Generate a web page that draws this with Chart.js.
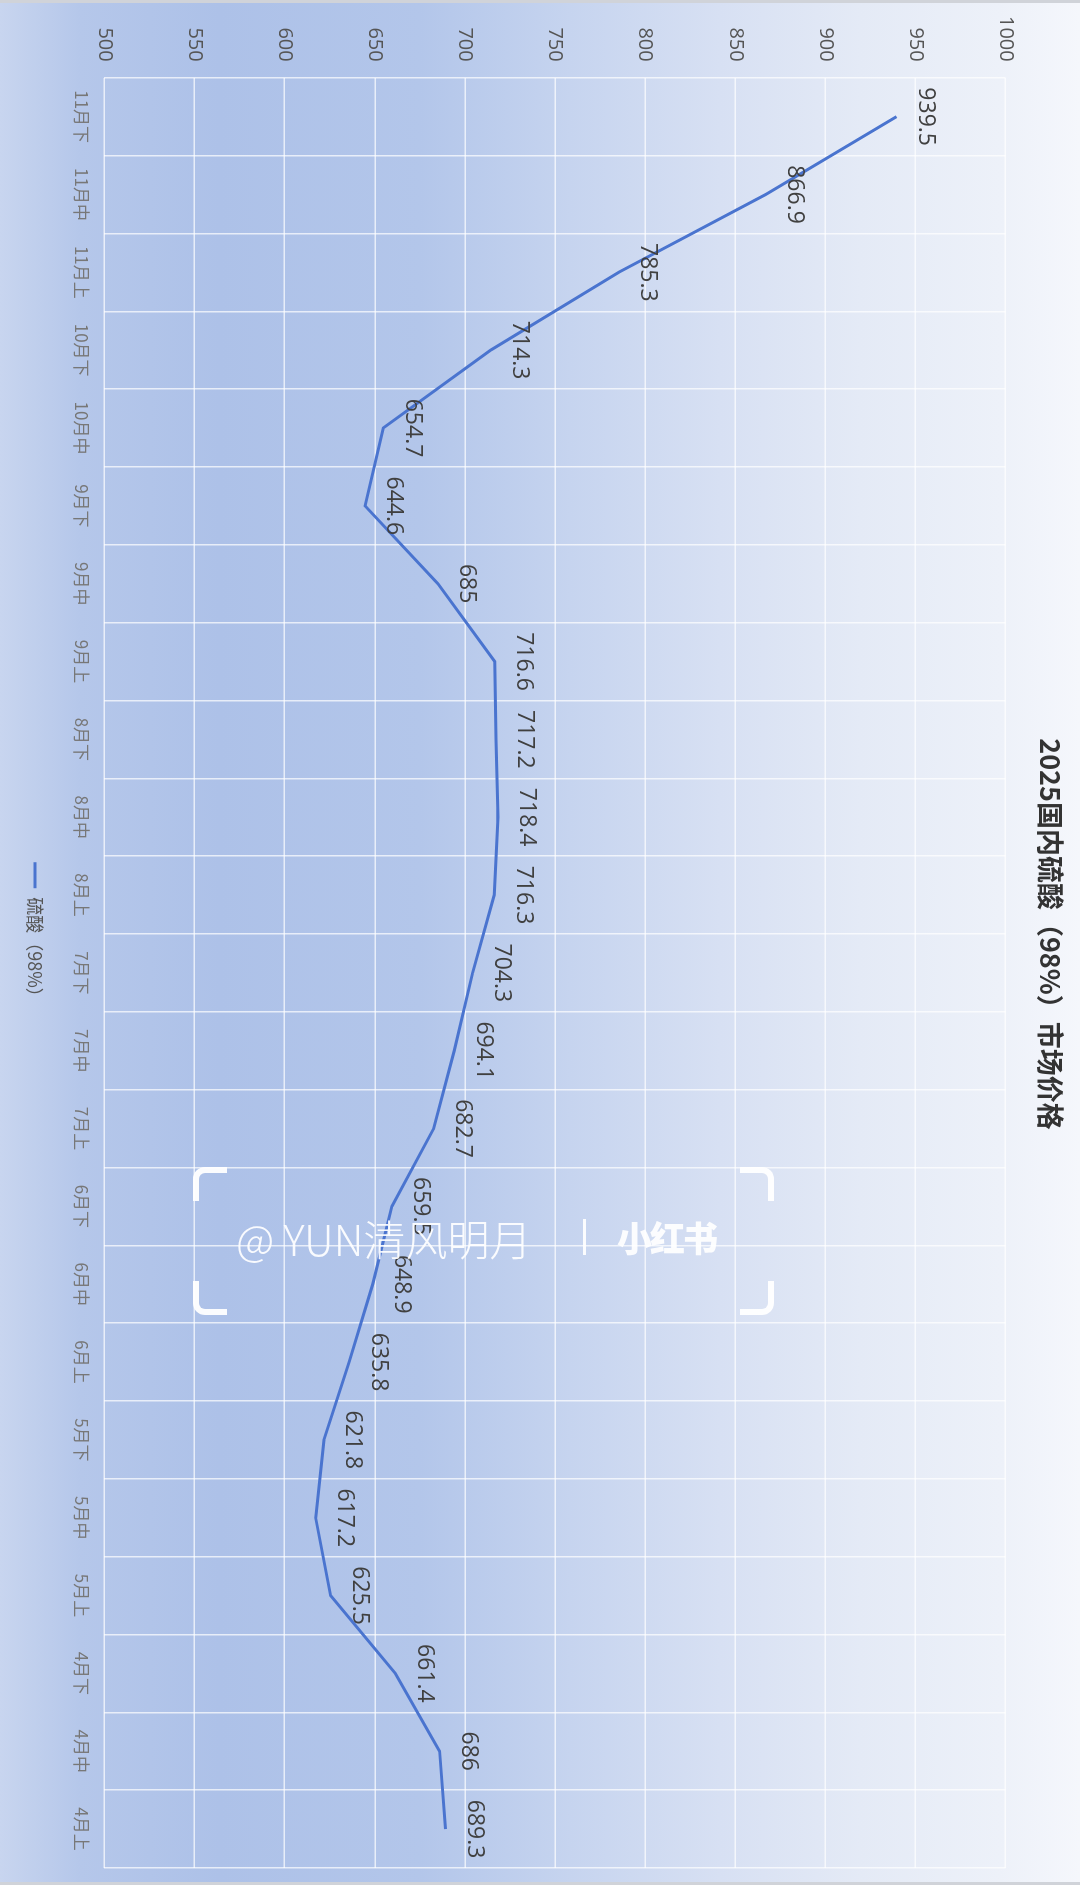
<!DOCTYPE html>
<html>
<head>
<meta charset="utf-8">
<script src="https://cdn.jsdelivr.net/npm/chart.js@4.4.1/dist/chart.umd.min.js"></script>
<style>
  html, body { margin: 0; padding: 0; }
  body {
    width: 1080px; height: 1885px; overflow: hidden; position: relative;
    background: linear-gradient(to right, #c8d5ef 0px, #b5c7ea 80px, #adc1e8 220px, #b3c6ea 420px, #c6d4ef 570px, #d7e0f3 720px, #e4eaf6 860px, #edf1f9 1000px, #f5f7fc 1080px);
    font-family: "Noto Sans CJK SC", "Noto Sans", sans-serif;
  }
  #rot {
    position: absolute; left: 0; top: 0; width: 1885px; height: 1080px;
    transform-origin: 0 0; transform: translateX(1080px) rotate(90deg);
  }
  .edge { position: absolute; left: 0; width: 1080px; height: 3px; background: #d0d3d9; }
  .wm { position: absolute; color: rgba(255,255,255,0.92); white-space: nowrap; }
  .corner { position: absolute; width: 28px; height: 28px; border: 0 solid rgba(255,255,255,0.95); }
</style>
</head>
<body>
<div id="rot"><canvas id="chart" width="1885" height="1080"></canvas></div>

<div class="edge" style="top:0"></div>
<div class="edge" style="top:1882px"></div>

<!-- watermark -->
<div class="corner" style="left:193px;top:1167px;border-left-width:6px;border-top-width:6px;border-top-left-radius:12px;"></div>
<div class="corner" style="left:193px;top:1281px;border-left-width:6px;border-bottom-width:6px;border-bottom-left-radius:12px;"></div>
<div class="corner" style="left:740px;top:1167px;border-right-width:6px;border-top-width:6px;border-top-right-radius:12px;"></div>
<div class="corner" style="left:740px;top:1281px;border-right-width:6px;border-bottom-width:6px;border-bottom-right-radius:12px;"></div>
<div class="wm" style="left:236px;top:1210px;font-size:42px;font-weight:300;line-height:56px;">@ YUN清风明月</div>
<div class="wm" style="left:583px;top:1219px;width:3px;height:36px;background:rgba(255,255,255,0.92);"></div>
<div class="wm" style="left:617px;top:1214px;font-size:35px;font-weight:900;line-height:46px;letter-spacing:-2px;">小红书</div>

<script>
// categories (left -> right in the unrotated chart)
const periods = ['11月下','11月中','11月上','10月下','10月中','9月下','9月中','9月上','8月下','8月中','8月上',
  '7月下','7月中','7月上','6月下','6月中','6月上','5月下','5月中','5月上','4月下','4月中','4月上'];
// 硫酸（98%）价格
const prices = [939.5, 866.9, 785.3, 714.3, 654.7, 644.6, 685, 716.6, 717.2, 718.4, 716.3,
  704.3, 694.1, 682.7, 659.5, 648.9, 635.8, 621.8, 617.2, 625.5, 661.4, 686, 689.3];
const yMin = 500, yMax = 1000, yStep = 50;

const lineColor = '#4a74cf';

// draw value labels above each point
const valueLabels = {
  id: 'valueLabels',
  afterDatasetsDraw(chart){
    const ctx = chart.ctx;
    const meta = chart.getDatasetMeta(0);
    ctx.save();
    ctx.font = '23px "Open Sans", "Noto Sans", sans-serif';
    ctx.fillStyle = '#404040';
    ctx.textAlign = 'center';
    ctx.textBaseline = 'middle';
    meta.data.forEach((pt, i) => ctx.fillText(String(prices[i]), pt.x, pt.y - 29));
    ctx.restore();
  }
};

const ctx = document.getElementById('chart').getContext('2d');
new Chart(ctx, {
  type: 'line',
  data: {
    labels: periods,
    datasets: [{
      label: '硫酸（98%）',
      data: prices,
      borderColor: lineColor,
      backgroundColor: lineColor,
      borderWidth: 3,
      pointRadius: 0,
      tension: 0
    }]
  },
  options: {
    responsive: false,
    animation: false,
    devicePixelRatio: 1,
    layout: { padding: { left: 0, right: 17, top: 6, bottom: 16 } },
    plugins: {
      title: {
        display: true,
        text: '2025国内硫酸（98%）市场价格',
        color: '#333',
        font: { size: 27, weight: 'bold', family: '"Noto Sans CJK SC", sans-serif' },
        padding: { top: 8, bottom: 28 }
      },
      legend: {
        position: 'bottom',
        labels: {
          color: '#555',
          font: { size: 18, family: '"Noto Sans CJK SC", sans-serif' },
          boxWidth: 26,
          boxHeight: 3,
          padding: 14,
          generateLabels: (chart) => chart.data.datasets.map((d, i) => ({
            text: d.label, fillStyle: d.borderColor, strokeStyle: d.borderColor,
            lineWidth: 0, hidden: false, datasetIndex: i, fontColor: '#555'
          }))
        }
      },
      tooltip: { enabled: false }
    },
    scales: {
      x: {
        offset: true,
        grid: { offset: true, color: 'rgba(255,255,255,0.7)', lineWidth: 1.5, drawTicks: false },
        border: { display: false },
        ticks: { color: '#777', padding: 13, font: { size: 17, family: '"Noto Sans CJK SC", serif' }, maxRotation: 0, autoSkip: false }
      },
      y: {
        min: yMin, max: yMax,
        grid: { color: 'rgba(255,255,255,0.7)', lineWidth: 1.5, drawTicks: false },
        border: { display: false },
        ticks: { stepSize: yStep, color: '#555', padding: 16, font: { size: 20, family: '"Open Sans", sans-serif' },
          callback: (v) => String(v) }
      }
    }
  },
  plugins: [valueLabels]
});
</script>
</body>
</html>
